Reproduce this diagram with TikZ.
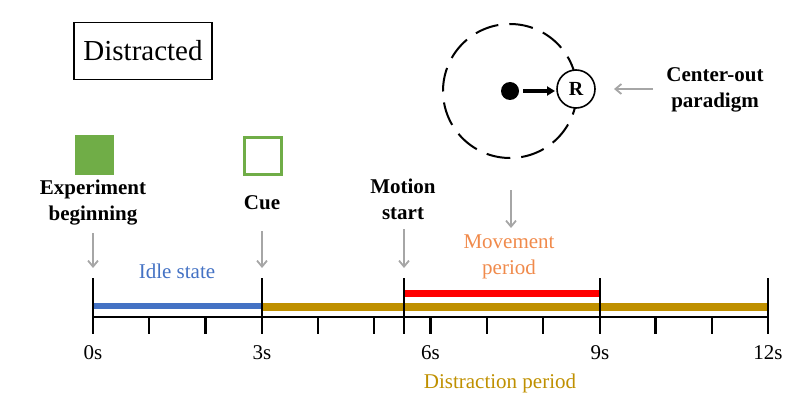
\documentclass[tikz,border=0pt]{standalone}
\usepackage{fontspec}
\setmainfont{Liberation Serif}
\usetikzlibrary{arrows.meta}
\definecolor{cgreen}{HTML}{70AD47}
\definecolor{cblue}{HTML}{4472C4}
\definecolor{cgold}{HTML}{BF9000}
\definecolor{cred}{HTML}{FF0000}
\definecolor{corange}{HTML}{F08A4B}
\definecolor{cgray}{HTML}{A6A6A6}
\tikzset{
  lbl/.style={font=\fontsize{21}{26}\selectfont, inner sep=0pt, align=center},
  blbl/.style={lbl, font=\fontsize{21}{26}\selectfont\bfseries},
  garrow/.style={draw=cgray, line width=1.8pt, -{Straight Barb[length=6pt,width=10pt]}},
  tall/.style={line width=2.2pt},
  short/.style={line width=2.2pt},
}
\begin{document}
\begin{tikzpicture}[x=1pt,y=-1pt]
\useasboundingbox (0,0) rectangle (810,406);
% Distracted box
\node[draw, line width=1.4pt, minimum width=138pt, minimum height=57pt, inner sep=0pt,
      font=\fontsize{29}{34}\selectfont] (dis) at (143,51) {Distracted};
% squares
\node[fill=cgreen, minimum size=39pt, inner sep=0pt] (sqf) at (94,155) {};
\node[draw=cgreen, line width=2.5pt, minimum size=37pt, inner sep=0pt] (sqo) at (263,156) {};
% labels
\node[blbl] (expbeg) at (93,203) {Experiment\\beginning};
\node[blbl] (cue) at (262,203) {Cue};
\node[blbl] (mstart) at (403,199) {Motion\\start};
\node[blbl] (cop) at (715,90) {Center-out\\paradigm};
% center-out diagram
\coordinate (cc) at (510,91);
\draw[line width=2pt, dash pattern=on 24pt off 11pt] (cc) circle (67);
\node[circle, fill=black, minimum size=18pt, inner sep=0pt] (dot) at (cc) {};
\node[circle, draw, fill=white, line width=1.6pt, minimum size=38pt, inner sep=0pt,
      font=\fontsize{20}{24}\selectfont\bfseries] (R) at (576,89) {R};
\coordinate (arS) at (523,91);
\coordinate (arE) at (555,91);
\draw[line width=3.2pt, -{Triangle[length=8pt,width=9pt]}] (arS) -- (arE);
\coordinate (copA) at (653,89);
\coordinate (copB) at (614,89);
\draw[garrow] (copA) -- (copB);
% timeline coordinates
\coordinate (a0) at (93,317);
\coordinate (a12) at (768,317);
% colored bars
\draw[cblue, line width=6pt] (93,306) -- (262,306);
\draw[cgold, line width=8pt] (262,307) -- (768,307);
\draw[cred, line width=7pt] (404,293) -- (600,293);
% axis
\draw[line width=2.2pt] (a0) -- (a12);
\foreach \x in {93,262,404,600,768} \draw[tall] (\x,278) -- (\x,334);
\foreach \x in {149.25,205.5,318,374.25,430.5,486.75,543,655.5,711.75} \draw[short] (\x,317) -- (\x,334);
% tick labels
\node[lbl] (l0) at (93,353) {0s};
\node[lbl] (l3) at (262,353) {3s};
\node[lbl] (l6) at (430.5,353) {6s};
\node[lbl] (l9) at (600,353) {9s};
\node[lbl] (l12) at (768,353) {12s};
% period labels
\node[lbl, text=cblue] (idle) at (177,271) {Idle state};
\node[lbl, text=corange] (mov) at (509,257) {Movement\\period};
\node[lbl, text=cgold] (distp) at (500,383) {Distraction period};
% gray arrows
\coordinate (s0) at (93,233);   \coordinate (p0) at (93,268);
\coordinate (s3) at (262,231);  \coordinate (p3) at (262,268);
\coordinate (sm) at (404,229);  \coordinate (pm) at (404,268);
\coordinate (sv) at (511,190);  \coordinate (pv) at (511,228);
\draw[garrow] (s0) -- (p0);
\draw[garrow] (s3) -- (p3);
\draw[garrow] (sm) -- (pm);
\draw[garrow] (sv) -- (pv);
\end{tikzpicture}
\end{document}
